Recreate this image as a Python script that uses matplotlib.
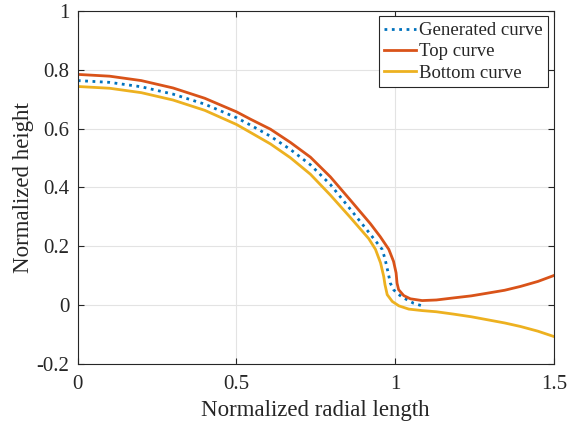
import numpy as np
import matplotlib
matplotlib.use('Agg')
import matplotlib.pyplot as plt

plt.rcParams['font.family'] = ['Liberation Serif', 'DejaVu Serif']
plt.rcParams['mathtext.fontset'] = 'stix'

# values
gen_x = [0, 0.1, 0.2, 0.3, 0.4, 0.5, 0.544, 0.607, 0.67, 0.733, 0.796, 0.859,
         0.911, 0.959, 0.968, 0.976, 0.985, 0.995, 1.006, 1.022, 1.037, 1.058, 1.085]
gen_y = [0.763, 0.757, 0.742, 0.717, 0.683, 0.637, 0.612, 0.574, 0.529, 0.477, 0.41, 0.326,
         0.256, 0.19, 0.158, 0.12, 0.075, 0.053, 0.041, 0.028, 0.019, 0.007, -0.002]

top_x = [0, 0.1, 0.2, 0.3, 0.4, 0.5, 0.544, 0.607, 0.67, 0.733, 0.796, 0.859,
         0.922, 0.953, 0.98, 0.995, 1.003, 1.006, 1.011, 1.027, 1.048, 1.085,
         1.13, 1.184, 1.24, 1.29, 1.345, 1.395, 1.45, 1.5]
top_y = [0.784, 0.778, 0.763, 0.738, 0.703, 0.657, 0.632, 0.598, 0.553, 0.503, 0.436, 0.357,
         0.277, 0.233, 0.19, 0.149, 0.11, 0.075, 0.053, 0.033, 0.022, 0.016,
         0.018, 0.025, 0.032, 0.041, 0.051, 0.064, 0.081, 0.101]

bot_x = [0, 0.1, 0.2, 0.3, 0.4, 0.5, 0.544, 0.607, 0.67, 0.733, 0.796, 0.859,
         0.917, 0.938, 0.954, 0.964, 0.968, 0.975, 0.991, 1.012, 1.043, 1.085,
         1.13, 1.184, 1.24, 1.29, 1.345, 1.395, 1.45, 1.5]
bot_y = [0.743, 0.737, 0.722, 0.697, 0.662, 0.614, 0.587, 0.548, 0.501, 0.445, 0.374, 0.298,
         0.226, 0.19, 0.144, 0.098, 0.07, 0.036, 0.013, -0.002, -0.013, -0.018,
         -0.022, -0.03, -0.039, -0.049, -0.06, -0.072, -0.088, -0.106]

x_ticks = [0, 0.5, 1, 1.5]
x_tick_labels = ['0', '0.5', '1', '1.5']
y_ticks = [-0.2, 0, 0.2, 0.4, 0.6, 0.8, 1]
y_tick_labels = ['-0.2', '0', '0.2', '0.4', '0.6', '0.8', '1']

txt = '#262626'

fig = plt.figure(figsize=(5.68, 4.32), dpi=100)
ax = fig.add_axes([0.137, 0.157, 0.838, 0.818])

ax.plot(gen_x, gen_y, ':', color='#0072BD', linewidth=2.0, label='Generated curve')
ax.plot(top_x, top_y, '-', color='#D95319', linewidth=2.0, label='Top curve')
ax.plot(bot_x, bot_y, '-', color='#EDB120', linewidth=2.0, label='Bottom curve')

ax.set_xlim(0, 1.5)
ax.set_ylim(-0.2, 1)
ax.set_xticks(x_ticks)
ax.set_xticklabels(x_tick_labels)
ax.set_yticks(y_ticks)
ax.set_yticklabels(y_tick_labels)
ax.tick_params(direction='in', top=True, right=True, labelsize=15,
               colors=txt, length=4, width=0.8)
ax.tick_params(axis='x', pad=8)
ax.tick_params(axis='y', pad=6)
ax.grid(True, color='#e3e3e3', linewidth=0.8)
ax.set_axisbelow(True)
for s in ax.spines.values():
    s.set_color(txt)
    s.set_linewidth(0.8)

ax.set_xlabel('Normalized radial length', fontsize=16.5, color=txt, labelpad=4)
ax.set_ylabel('Normalized height', fontsize=16.5, color=txt, labelpad=2)

leg = ax.legend(loc='upper right', fontsize=13.5, frameon=True, fancybox=False,
                framealpha=1, edgecolor=txt, handlelength=1.7, handletextpad=0.15,
                borderpad=0.3, labelspacing=0.22, borderaxespad=0.3)
leg.get_frame().set_linewidth(0.8)
for t in leg.get_texts():
    t.set_color(txt)

fig.savefig('out.png', dpi=100)
